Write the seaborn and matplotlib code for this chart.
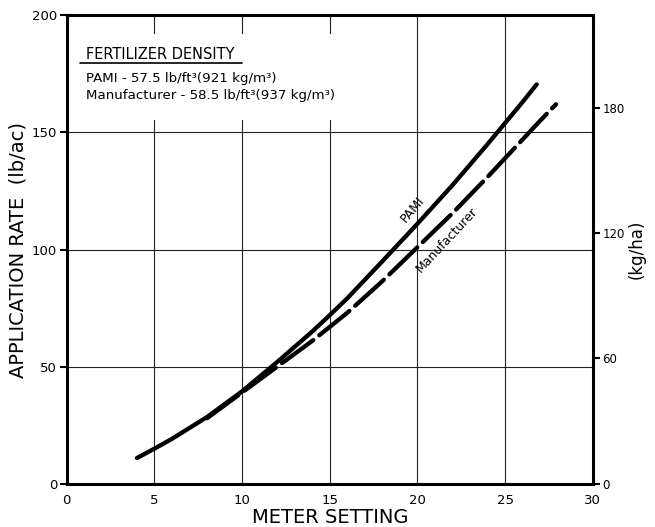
import numpy as np
import pandas as pd
import matplotlib
matplotlib.use("Agg")
import matplotlib.pyplot as plt
import seaborn as sns
from matplotlib.patches import Rectangle

# ---- data ----
pami_setting = [4, 5, 6, 8, 10, 12, 14, 15, 16, 18, 20, 22, 24, 25, 26, 26.8]
pami_rate = [11, 15, 19.2, 28.5, 39.5, 52, 65, 72, 79.2, 95, 111, 127.5, 145, 154, 163, 170.5]

manu_setting = [8, 10, 12, 14, 15, 16, 18, 20, 22, 24, 25, 26, 27, 27.9]
manu_rate = [28, 39, 50, 61, 67, 73, 86.5, 101, 115.5, 131, 139, 147, 155, 162]

x_ticks = [0, 5, 10, 15, 20, 25, 30]
y_ticks = [0, 50, 100, 150, 200]
y2_ticks = [0, 60, 120, 180]
LB_AC_TO_KG_HA = 1.12085

title_text = "FERTILIZER DENSITY"
line1 = "PAMI - 57.5 lb/ft³(921 kg/m³)"
line2 = "Manufacturer - 58.5 lb/ft³(937 kg/m³)"

pami_df = pd.DataFrame({"setting": pami_setting, "rate": pami_rate})
manu_df = pd.DataFrame({"setting": manu_setting, "rate": manu_rate})

sns.set_style("white")
plt.rcParams["font.family"] = ["DejaVu Sans"]
plt.rcParams.update({"text.color": "black", "axes.labelcolor": "black",
                     "xtick.color": "black", "ytick.color": "black"})

fig = plt.figure(figsize=(6.55, 5.27), dpi=100)
ax = fig.add_axes([0.102, 0.082, 0.803, 0.889])

# grid
for xv in x_ticks[1:-1]:
    ax.axvline(xv, color="#222222", lw=0.8, zorder=1)
for yv in y_ticks[1:-1]:
    ax.axhline(yv, color="#222222", lw=0.8, zorder=1)

# white box behind the density note
ax.add_patch(Rectangle((0, 155.5), 17.2, 36.5, facecolor="white",
                       edgecolor="none", zorder=2))

sns.lineplot(data=pami_df, x="setting", y="rate", ax=ax, color="black",
             lw=3.1, zorder=4)
sns.lineplot(data=manu_df, x="setting", y="rate", ax=ax, color="black",
             lw=3.1, zorder=4)
for ln, dashed in zip(ax.lines[-2:], [False, True]):
    ln.set_solid_joinstyle("round")
    ln.set_solid_capstyle("round")
    ln.set_dash_joinstyle("round")
    ln.set_dash_capstyle("round")
    if dashed:
        ln.set_dashes([9, 1.8])

ax.set_xlim(0, 30)
ax.set_ylim(0, 200)
ax.set_xticks(x_ticks)
ax.set_yticks(y_ticks)
ax.tick_params(axis="both", direction="out", length=5, width=1.5,
               labelsize=9.5, pad=2)
for s in ax.spines.values():
    s.set_linewidth(2.2)
    s.set_color("black")

ax.set_xlabel("METER SETTING", fontsize=14, labelpad=1)
ax.set_ylabel("APPLICATION RATE  (lb/ac)", fontsize=14, labelpad=3)

ax2 = ax.twinx()
ax2.set_ylim(0, 200 * LB_AC_TO_KG_HA)
ax2.set_yticks(y2_ticks)
ax2.tick_params(axis="y", direction="out", length=5, width=1.5,
                labelsize=8.5, pad=2)
ax2.set_ylabel("(kg/ha)", fontsize=12, labelpad=2)
for s in ax2.spines.values():
    s.set_visible(False)

# curve labels
ax.text(19.7, 117, "PAMI", rotation=50, fontsize=9, ha="center",
        va="center", zorder=5)
ax.text(21.7, 104, "Manufacturer", rotation=47, fontsize=9, ha="center",
        va="center", zorder=5)

# density note
ax.text(1.1, 181.5, title_text, fontsize=10.5, ha="left", va="baseline",
        zorder=5)
ax.plot([0.75, 10.0], [179.8, 179.8], color="black", lw=1.2, zorder=5)
ax.text(1.1, 172.8, line1, fontsize=9.6, ha="left", va="center", zorder=5)
ax.text(1.1, 165.9, line2, fontsize=9.6, ha="left", va="center", zorder=5)

fig.savefig("out.png", dpi=100)
